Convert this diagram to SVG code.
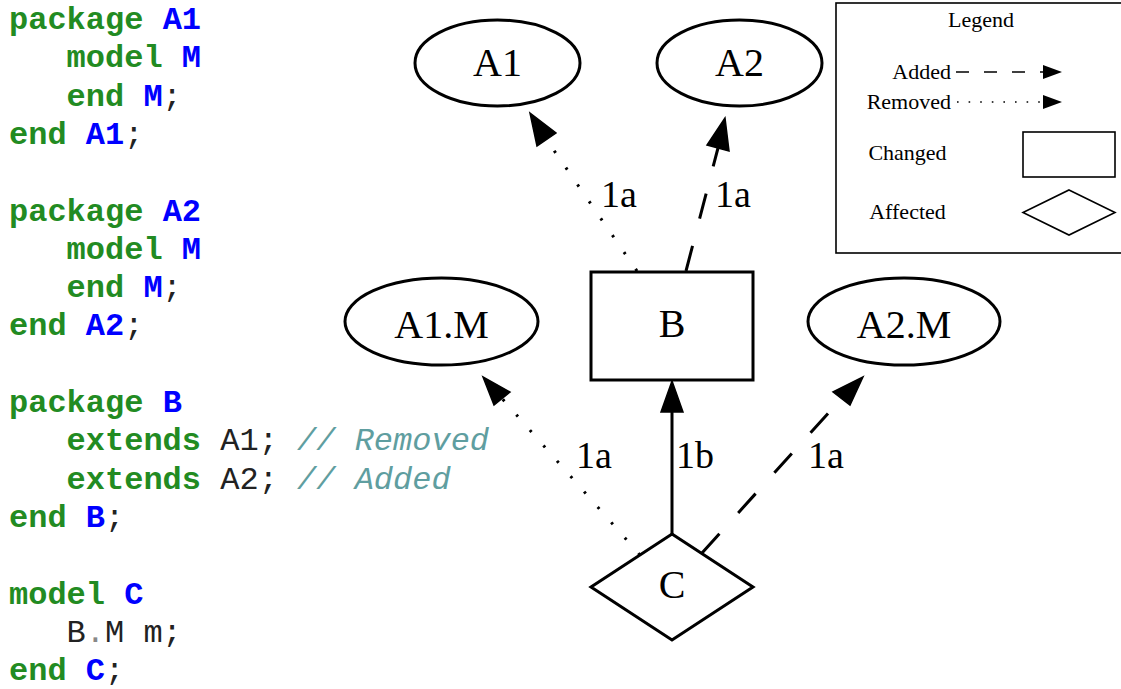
<svg xmlns="http://www.w3.org/2000/svg" width="1121" height="689" viewBox="0 0 1121 689">
  <style>
    .code { font-family: "Liberation Mono", "Courier New", monospace; font-size: 32px; fill: #222; }
    .kw { font-weight: bold; fill: #228b22; }
    .nm { font-weight: bold; fill: #0000ff; }
    .cm { font-style: italic; fill: #5f9ea0; }
    .dot { fill: #888; }
    .node { fill: #fff; stroke: #000; stroke-width: 3; }
    .lbl { font-family: "Liberation Serif", "Times New Roman", serif; font-size: 40px; text-anchor: middle; fill: #000; }
    .elbl { font-family: "Liberation Serif", "Times New Roman", serif; font-size: 38px; text-anchor: middle; fill: #000; }
    .edge { fill: none; stroke: #000; stroke-width: 3; }
    .dashed { stroke-dasharray: 26 28; }
    .dotted { stroke-dasharray: 2.5 18; }
    .head { fill: #000; stroke: #000; stroke-width: 1.5; stroke-linejoin: miter; }
    .leg { font-family: "Liberation Serif", "Times New Roman", serif; font-size: 22px; fill: #000; }
    .legline { fill: none; stroke: #000; stroke-width: 1.6; }
  </style>

  <!-- Modelica source listing -->
  <g id="source">
    <text class="code" x="9" y="29"><tspan class="kw">package</tspan> <tspan class="nm">A1</tspan></text>
    <text class="code" x="66.6" y="67.3"><tspan class="kw">model</tspan> <tspan class="nm">M</tspan></text>
    <text class="code" x="66.6" y="105.6"><tspan class="kw">end</tspan> <tspan class="nm">M</tspan>;</text>
    <text class="code" x="9" y="143.9"><tspan class="kw">end</tspan> <tspan class="nm">A1</tspan>;</text>

    <text class="code" x="9" y="220.5"><tspan class="kw">package</tspan> <tspan class="nm">A2</tspan></text>
    <text class="code" x="66.6" y="258.8"><tspan class="kw">model</tspan> <tspan class="nm">M</tspan></text>
    <text class="code" x="66.6" y="297.1"><tspan class="kw">end</tspan> <tspan class="nm">M</tspan>;</text>
    <text class="code" x="9" y="335.4"><tspan class="kw">end</tspan> <tspan class="nm">A2</tspan>;</text>

    <text class="code" x="9" y="412"><tspan class="kw">package</tspan> <tspan class="nm">B</tspan></text>
    <text class="code" x="66.6" y="450.3"><tspan class="kw">extends</tspan> A1; <tspan class="cm">// Removed</tspan></text>
    <text class="code" x="66.6" y="488.6"><tspan class="kw">extends</tspan> A2; <tspan class="cm">// Added</tspan></text>
    <text class="code" x="9" y="526.9"><tspan class="kw">end</tspan> <tspan class="nm">B</tspan>;</text>

    <text class="code" x="9" y="603.5"><tspan class="kw">model</tspan> <tspan class="nm">C</tspan></text>
    <text class="code" x="66.6" y="641.8">B<tspan class="dot">.</tspan>M m;</text>
    <text class="code" x="9" y="680"><tspan class="kw">end</tspan> <tspan class="nm">C</tspan>;</text>
  </g>

  <!-- dependency edges -->
  <g id="edges">
    <!-- B -> A1 (removed) -->
    <path class="edge dotted" d="M637,271 L546.5,139.5"/>
    <polygon class="head" points="530,113 537,146 556,133"/>
    <text class="elbl" x="619" y="207">1a</text>
    <!-- B -> A2 (added) -->
    <path class="edge dashed" d="M686,271 L718,148"/>
    <polygon class="head" points="725,118 707,145 729,151"/>
    <text class="elbl" x="733" y="207">1a</text>
    <!-- C -> A1.M (removed) -->
    <path class="edge dotted" d="M640,555 L502,398.5"/>
    <polygon class="head" points="483,377 494,405 510,392"/>
    <text class="elbl" x="594" y="468">1a</text>
    <!-- C -> B -->
    <path class="edge" d="M672,534 L672,411"/>
    <polygon class="head" points="672,381 661,412 683,412"/>
    <text class="elbl" x="695" y="468">1b</text>
    <!-- C -> A2.M (added) -->
    <path class="edge dashed" d="M702,553 L841.5,398.5"/>
    <polygon class="head" points="863,377 833,392 850,405"/>
    <text class="elbl" x="826" y="468">1a</text>
  </g>

  <g id="A1">
    <ellipse class="node" cx="497.5" cy="63" rx="82.5" ry="43"/>
    <text class="lbl" x="497.5" y="76">A1</text>
  </g>
  <g id="A2">
    <ellipse class="node" cx="739.5" cy="63" rx="82.5" ry="43"/>
    <text class="lbl" x="739.5" y="76">A2</text>
  </g>
  <g id="A1.M">
    <ellipse class="node" cx="441.5" cy="321.5" rx="96.5" ry="43.5"/>
    <text class="lbl" x="441.5" y="338">A1.M</text>
  </g>
  <g id="A2.M">
    <ellipse class="node" cx="904" cy="321.5" rx="96" ry="43.5"/>
    <text class="lbl" x="904" y="338">A2.M</text>
  </g>
  <g id="B">
    <rect class="node" x="591" y="272" width="162" height="108"/>
    <text class="lbl" x="672" y="337">B</text>
  </g>
  <g id="C">
    <polygon class="node" points="672,534 753,587 672,640 591,587"/>
    <text class="lbl" x="672" y="598">C</text>
  </g>

  <!-- legend -->
  <g id="legend">
    <rect x="836" y="3" width="295" height="250" fill="#fff" stroke="#000" stroke-width="1.6"/>
    <text class="leg" x="981" y="27" text-anchor="middle">Legend</text>
    <text class="leg" x="951" y="79" text-anchor="end">Added</text>
    <path class="legline" d="M956,72 L1043,72" stroke-dasharray="13 15"/>
    <polygon points="1062,72 1043,65 1043,79" fill="#000"/>
    <text class="leg" x="951" y="108.5" text-anchor="end">Removed</text>
    <path class="legline" d="M957,102 L1043,102" stroke-dasharray="1.6 10"/>
    <polygon points="1062,102 1043,95 1043,109" fill="#000"/>
    <text class="leg" x="907.5" y="159.5" text-anchor="middle">Changed</text>
    <rect x="1023" y="132" width="92" height="45" fill="#fff" stroke="#000" stroke-width="1.6"/>
    <text class="leg" x="907.5" y="218.5" text-anchor="middle">Affected</text>
    <polygon points="1069,190 1115,212.5 1069,235 1023,212.5" fill="#fff" stroke="#000" stroke-width="1.6"/>
  </g>
</svg>
